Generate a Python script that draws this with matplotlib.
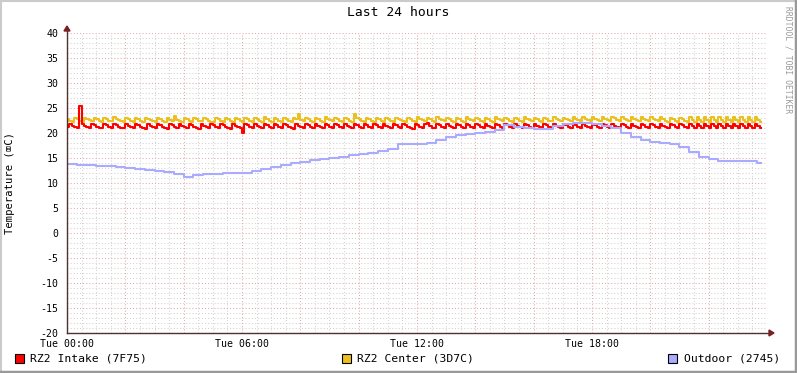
import matplotlib
matplotlib.use("Agg")
import matplotlib.pyplot as plt
import numpy as np
from matplotlib.lines import Line2D
from matplotlib.patches import Rectangle, Polygon

# ---------------- data ----------------
title = "Last 24 hours"
ylabel = "Temperature (\u2327C)"
series_names = ["RZ2 Intake (7F75)", "RZ2 Center (3D7C)", "Outdoor (2745)"]
series_colors = ["#FF0000", "#EAC01E", "#AAAAFF"]
xtick_hours = [0, 6, 12, 18]
xtick_labels = ["Tue 00:00", "Tue 06:00", "Tue 12:00", "Tue 18:00"]
yticks = [40, 35, 30, 25, 20, 15, 10, 5, 0, -5, -10, -15, -20]

# 5-minute samples (12 per hour)
intake = [
    21.2, 21.8, 21.5, 21.2, 21.0, 25.5, 21.9, 21.4, 21.2, 21.0, 21.8, 21.6,
    21.3, 21.0, 21.0, 21.9, 21.6, 21.3, 21.1, 21.9, 21.7, 21.3, 21.1, 21.0,
    21.8, 21.5, 21.2, 21.0, 21.9, 21.6, 21.3, 21.1, 20.9, 21.8, 21.5, 21.2,
    21.0, 21.9, 21.6, 21.3, 21.1, 20.9, 21.8, 21.6, 21.3, 21.0, 21.9, 21.5,
    21.2, 21.0, 21.8, 21.6, 21.3, 21.1, 20.9, 21.9, 21.5, 21.2, 21.0, 21.8,
    21.6, 21.3, 21.0, 21.9, 21.6, 21.2, 21.0, 20.8, 21.8, 21.5, 21.2, 21.0,
    20.1, 21.9, 21.6, 21.3, 21.1, 21.8, 21.5, 21.2, 21.0, 21.9, 21.6, 21.3,
    21.1, 21.9, 21.6, 21.3, 21.0, 21.8, 21.6, 21.3, 21.1, 20.9, 21.9, 21.5,
    21.2, 21.0, 21.9, 21.6, 21.3, 21.1, 21.8, 21.5, 21.2, 21.0, 21.9, 21.6,
    21.3, 21.1, 21.9, 21.6, 21.2, 21.0, 21.8, 21.5, 21.3, 21.1, 21.9, 21.6,
    21.3, 21.0, 21.9, 21.7, 21.3, 21.1, 21.8, 21.6, 21.3, 21.0, 21.9, 21.5,
    21.2, 21.0, 21.8, 21.6, 21.3, 21.1, 21.9, 21.6, 21.3, 21.0, 20.9, 21.9,
    21.6, 21.2, 21.0, 21.9, 22.0, 21.4, 21.1, 21.0, 21.9, 21.6, 21.2, 21.0,
    21.9, 21.5, 21.2, 21.0, 21.8, 21.6, 21.3, 21.1, 21.9, 21.6, 21.3, 21.0,
    21.9, 21.6, 21.3, 21.1, 21.8, 21.5, 21.2, 21.0, 21.9, 21.6, 21.3, 21.1,
    21.9, 21.6, 21.3, 21.0, 21.8, 21.5, 21.2, 21.0, 21.9, 21.6, 21.3, 21.1,
    21.8, 21.5, 21.2, 21.0, 21.9, 21.6, 21.3, 21.1, 21.9, 21.5, 21.2, 21.0,
    21.8, 21.6, 21.3, 21.1, 21.9, 21.6, 21.3, 21.0, 21.8, 21.5, 21.2, 21.0,
    21.9, 21.6, 21.3, 21.1, 21.9, 21.6, 21.2, 21.0, 21.8, 21.5, 21.2, 21.0,
    21.9, 21.6, 21.3, 21.1, 21.8, 21.5, 21.3, 21.0, 21.9, 21.6, 21.3, 21.1,
    21.9, 21.6, 21.2, 21.0, 21.8, 21.5, 21.2, 21.0, 21.9, 21.6, 21.3, 21.1,
    21.9, 21.6, 21.3, 21.0, 21.9, 21.4, 21.0, 21.9, 21.4, 21.0, 21.9, 21.4,
    21.0, 21.9, 21.4, 21.0, 21.9, 21.4, 21.0, 21.9, 21.4, 21.0, 21.9, 21.4,
    21.0, 21.9, 21.4, 21.0, 21.9, 21.4, 21.0, 21.9, 21.4, 21.0,
]
center = [
    22.9, 22.5, 22.3, 23.1, 22.8, 22.5, 22.3, 23.1, 22.9, 22.6, 22.4, 23.1,
    22.8, 22.5, 22.3, 23.1, 22.8, 22.5, 22.4, 23.2, 22.9, 22.6, 22.4, 22.3,
    23.1, 22.8, 22.5, 22.3, 23.1, 22.8, 22.5, 22.3, 23.1, 22.8, 22.6, 22.4,
    22.3, 23.1, 22.8, 22.5, 22.3, 23.0, 22.7, 22.5, 23.4, 22.7, 22.5, 22.3,
    23.1, 22.8, 22.5, 22.3, 23.1, 22.8, 22.5, 22.4, 23.1, 22.8, 22.5, 22.3,
    22.3, 23.1, 22.8, 22.5, 22.3, 23.1, 22.8, 22.5, 22.3, 23.1, 22.8, 22.5,
    22.3, 23.1, 22.8, 22.5, 22.3, 23.1, 22.8, 22.5, 22.3, 23.2, 22.8, 22.5,
    22.3, 23.1, 22.9, 22.5, 22.3, 23.1, 22.8, 22.5, 22.3, 23.1, 22.8, 23.8,
    22.6, 22.4, 23.1, 22.8, 22.5, 22.3, 23.1, 22.8, 22.5, 22.3, 23.2, 22.9,
    22.6, 22.4, 23.1, 22.8, 22.5, 22.3, 23.1, 22.8, 22.5, 22.3, 23.8, 23.1,
    22.8, 22.5, 22.3, 23.1, 22.8, 22.5, 22.3, 23.1, 22.8, 22.5, 22.3, 23.1,
    22.8, 22.5, 22.3, 23.1, 22.9, 22.6, 22.4, 22.3, 23.1, 22.8, 22.5, 22.3,
    23.2, 22.9, 22.6, 22.4, 23.1, 22.8, 22.5, 22.3, 23.3, 22.9, 22.6, 22.4,
    23.1, 22.8, 22.5, 22.3, 23.1, 22.8, 22.5, 22.3, 23.2, 22.9, 22.6, 22.4,
    23.1, 22.8, 22.5, 22.3, 23.1, 22.8, 22.5, 22.3, 23.2, 22.9, 22.6, 22.4,
    23.1, 22.8, 22.5, 22.3, 23.1, 22.8, 22.5, 22.3, 23.2, 22.9, 22.6, 22.4,
    23.1, 22.8, 22.5, 22.3, 23.1, 22.8, 22.5, 22.4, 23.3, 22.9, 22.6, 22.4,
    23.1, 22.8, 22.6, 22.4, 23.2, 22.9, 22.6, 22.4, 23.3, 22.9, 22.6, 22.5,
    23.3, 22.9, 22.7, 22.5, 23.3, 22.9, 22.7, 22.5, 23.3, 23.0, 22.7, 22.5,
    23.3, 22.9, 22.7, 22.5, 23.2, 22.9, 22.6, 22.4, 23.2, 22.9, 22.6, 22.4,
    23.2, 22.9, 22.6, 22.4, 23.2, 22.8, 22.5, 22.3, 23.1, 22.8, 22.5, 22.3,
    23.1, 22.8, 22.5, 22.3, 23.2, 22.6, 22.2, 23.2, 22.6, 22.2, 23.3, 22.6,
    22.2, 23.3, 22.6, 22.2, 23.2, 22.6, 22.2, 23.3, 22.6, 22.2, 23.2, 22.6,
    22.2, 23.3, 22.6, 22.2, 23.3, 22.6, 22.2, 23.2, 22.6, 22.2,
]
# 20-minute samples (3 per hour)
outdoor = [
    13.8, 13.7, 13.6, 13.5, 13.4, 13.2, 13.0, 12.8, 12.6, 12.4, 12.2, 11.8,
    11.2, 11.6, 11.8, 11.9, 12.0, 12.0, 12.1, 12.4, 12.8, 13.2, 13.6, 14.0,
    14.2, 14.6, 14.8, 15.0, 15.2, 15.6, 15.8, 16.0, 16.4, 16.8, 17.8, 17.8,
    17.8, 18.0, 18.6, 19.2, 19.6, 19.8, 20.0, 20.2, 20.6, 21.6, 21.2, 21.0,
    20.8, 20.8, 21.4, 21.8, 22.0, 22.0, 21.8, 21.4, 21.0, 20.0, 19.2, 18.6,
    18.2, 18.0, 17.8, 17.2, 16.2, 15.2, 14.8, 14.4, 14.4, 14.4, 14.4, 14.0,
]
data_end_hour = 23.8

# ---------------- figure ----------------
W, H = 797, 373
fig = plt.figure(figsize=(W / 100, H / 100), dpi=100)
fig.patch.set_facecolor("white")
mono = ["DejaVu Sans Mono", "DejaVu Sans"]

L, R, T, B = 67, 767, 33, 333
ax = fig.add_axes([L / W, 1 - B / H, (R - L) / W, (B - T) / H])
ax.set_facecolor("white")
ax.set_xlim(0, 24)
ax.set_ylim(-20, 40)

# grid
grid_c = "#D2D2D2"
mgrid_c = "#E2A8A8"
for h in np.arange(0, 24.01, 0.5):
    if h % 2 == 0:
        continue
    ax.axvline(h, color=grid_c, lw=0.75, ls=(0, (1, 2)), zorder=1)
for v in range(-20, 41):
    if v % 5 == 0:
        continue
    ax.axhline(v, color=grid_c, lw=0.75, ls=(0, (1, 2)), zorder=1)
for h in range(2, 25, 2):
    ax.axvline(h, color=mgrid_c, lw=0.75, ls=(0, (1, 2)), zorder=1.5)
for v in yticks:
    ax.axhline(v, color=mgrid_c, lw=0.75, ls=(0, (1, 2)), zorder=1.5)

# series
t5 = np.arange(len(intake)) * 5 / 60.0
t5c = np.arange(len(center)) * 5 / 60.0
t20 = np.arange(len(outdoor)) * 20 / 60.0
def ext(t, y, end):
    return np.append(t, end), np.append(y, y[-1])
x1, y1 = ext(t5, np.array(intake), data_end_hour)
x2, y2 = ext(t5c, np.array(center), data_end_hour)
x3, y3 = ext(t20, np.array(outdoor), data_end_hour)
ax.plot(x2, y2, drawstyle="steps-post", color=series_colors[1], lw=1.5, zorder=3)
ax.plot(x1, y1, drawstyle="steps-post", color=series_colors[0], lw=1.5, zorder=4)
ax.plot(x3, y3, drawstyle="steps-post", color=series_colors[2], lw=1.5, zorder=5)

# ticks
ax.set_xticks(xtick_hours)
ax.set_xticklabels(xtick_labels, fontsize=7.1, family=mono)
ax.set_yticks(yticks)
ax.set_yticklabels([str(v) for v in yticks], fontsize=7.1, family=mono)
ax.tick_params(axis="both", length=0, pad=4)
ax.tick_params(axis="y", pad=6)
for s in ax.spines.values():
    s.set_visible(False)

# axes lines + arrows in figure pixel coords
def fx(px):
    return px / W
def fy(py):
    return 1 - py / H
axis_c = "#503030"
arrow_c = "#7F1F1F"
fig.add_artist(Line2D([fx(L), fx(L)], [fy(B), fy(30)], color=axis_c, lw=1.0))
fig.add_artist(Line2D([fx(L), fx(770)], [fy(B), fy(B)], color=axis_c, lw=1.0))
fig.add_artist(Polygon([[fx(L - 3), fy(31)], [fx(L + 3), fy(31)], [fx(L), fy(26)]],
                       closed=True, color=arrow_c, transform=fig.transFigure))
fig.add_artist(Polygon([[fx(769), fy(B - 3)], [fx(769), fy(B + 3)], [fx(774), fy(B)]],
                       closed=True, color=arrow_c, transform=fig.transFigure))

# title and labels
fig.text(fx(398), fy(13), title, ha="center", va="center", fontsize=9.4, family=mono)
fig.text(fx(10), fy(183), ylabel, ha="center", va="center", rotation=90,
         fontsize=7.6, family=mono)
fig.text(fx(788), fy(60), "RRDTOOL / TOBI OETIKER", ha="center", va="center",
         rotation=270, fontsize=5.8, family=mono, color="#999999")

# legend
leg_sq_x = [15, 342, 668]
leg_tx_x = [30, 357, 684]
for sx, tx, name, col in zip(leg_sq_x, leg_tx_x, series_names, series_colors):
    fig.add_artist(Rectangle((fx(sx), fy(363)), 9 / W, 9 / H, facecolor=col,
                             edgecolor="black", lw=0.8, transform=fig.transFigure))
    fig.text(fx(tx), fy(358.5), name, ha="left", va="center", fontsize=8.2, family=mono)

# frame shading
fig.add_artist(Line2D([0, 1], [fy(1), fy(1)], color="#CBCBCB", lw=1.5))
fig.add_artist(Line2D([fx(1), fx(1)], [0, 1], color="#CBCBCB", lw=1.5))
fig.add_artist(Line2D([0, 1], [fy(371.5), fy(371.5)], color="#999999", lw=2.5))
fig.add_artist(Line2D([fx(795.5), fx(795.5)], [0, 1], color="#999999", lw=2.5))

fig.savefig("out.png", dpi=100, facecolor="white")
